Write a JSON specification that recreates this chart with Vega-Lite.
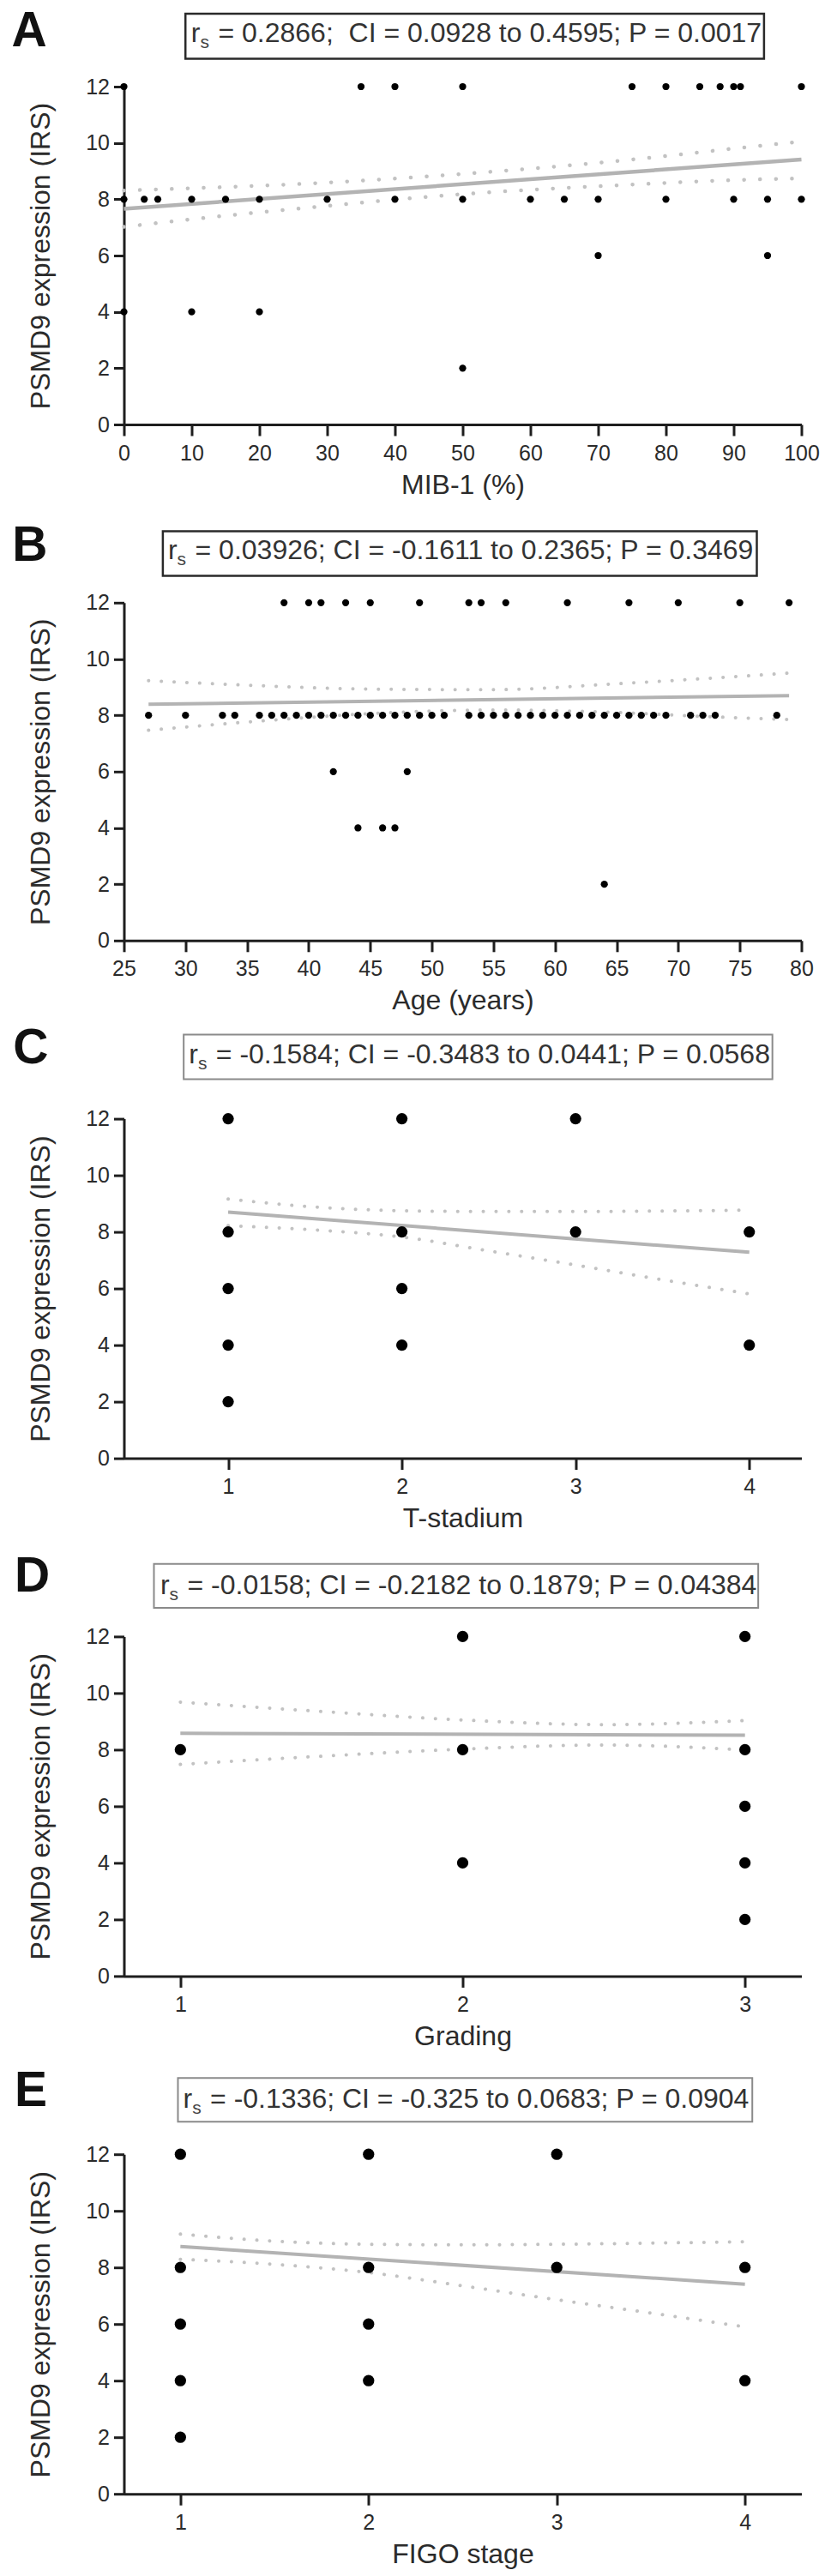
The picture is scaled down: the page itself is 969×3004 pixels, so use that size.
{
  "$schema": "https://vega.github.io/schema/vega-lite/v6.json",
  "description": "PSMD9 expression (IRS) against MIB-1, age, T-stadium, grading and FIGO stage, with Spearman fit lines and 95% bands.",
  "padding": {"left": 13.5, "top": 8, "right": 5, "bottom": 5},
  "bounds": "flush",
  "spacing": 207.8,
  "config": {
    "font": "Liberation Sans",
    "view": {"stroke": null},
    "axis": {
      "grid": false,
      "domainColor": "#1e1e1e",
      "domainWidth": 3,
      "tickColor": "#1e1e1e",
      "tickWidth": 3,
      "labelColor": "#2b2b2b",
      "labelFont": "Liberation Sans",
      "labelFontSize": 25,
      "labelFlush": false,
      "labelOverlap": false,
      "titleColor": "#2b2b2b",
      "titleFont": "Liberation Sans",
      "titleFontSize": 32,
      "titleFontWeight": "normal"
    },
    "axisX": {"tickSize": 13, "labelPadding": 8, "titlePadding": 9},
    "axisY": {"tickSize": 12, "labelPadding": 5, "titlePadding": 35}
  },
  "datasets": {
    "a_pts": [
      {"x": 0, "y": 12}, {"x": 35, "y": 12}, {"x": 40, "y": 12}, {"x": 50, "y": 12}, {"x": 75, "y": 12},
      {"x": 80, "y": 12}, {"x": 85, "y": 12}, {"x": 88, "y": 12}, {"x": 90, "y": 12}, {"x": 91, "y": 12},
      {"x": 100, "y": 12},
      {"x": 0, "y": 8}, {"x": 3, "y": 8}, {"x": 5, "y": 8}, {"x": 10, "y": 8}, {"x": 15, "y": 8},
      {"x": 20, "y": 8}, {"x": 30, "y": 8}, {"x": 40, "y": 8}, {"x": 50, "y": 8}, {"x": 60, "y": 8},
      {"x": 65, "y": 8}, {"x": 70, "y": 8}, {"x": 80, "y": 8}, {"x": 90, "y": 8}, {"x": 95, "y": 8},
      {"x": 100, "y": 8},
      {"x": 70, "y": 6}, {"x": 95, "y": 6},
      {"x": 0, "y": 4}, {"x": 10, "y": 4}, {"x": 20, "y": 4},
      {"x": 50, "y": 2}
    ],
    "a_fit": [{"x": 0, "y": 7.66}, {"x": 100, "y": 9.41}],
    "a_ci": [
      {"x": 0, "y": 8.31, "bound": "upper"}, {"x": 10, "y": 8.39, "bound": "upper"},
      {"x": 25, "y": 8.53, "bound": "upper"}, {"x": 50, "y": 8.9, "bound": "upper"},
      {"x": 75, "y": 9.41, "bound": "upper"}, {"x": 90, "y": 9.8, "bound": "upper"},
      {"x": 100, "y": 10.05, "bound": "upper"},
      {"x": 0, "y": 7.02, "bound": "lower"}, {"x": 10, "y": 7.29, "bound": "lower"},
      {"x": 25, "y": 7.65, "bound": "lower"}, {"x": 50, "y": 8.18, "bound": "lower"},
      {"x": 75, "y": 8.52, "bound": "lower"}, {"x": 90, "y": 8.68, "bound": "lower"},
      {"x": 100, "y": 8.74, "bound": "lower"}
    ],
    "b_pts": [
      {"x": 38, "y": 12}, {"x": 40, "y": 12}, {"x": 41, "y": 12}, {"x": 43, "y": 12}, {"x": 45, "y": 12},
      {"x": 49, "y": 12}, {"x": 53, "y": 12}, {"x": 54, "y": 12}, {"x": 56, "y": 12}, {"x": 61, "y": 12},
      {"x": 66, "y": 12}, {"x": 70, "y": 12}, {"x": 75, "y": 12}, {"x": 79, "y": 12},
      {"x": 27, "y": 8}, {"x": 30, "y": 8}, {"x": 33, "y": 8}, {"x": 34, "y": 8}, {"x": 36, "y": 8},
      {"x": 37, "y": 8}, {"x": 38, "y": 8}, {"x": 39, "y": 8}, {"x": 40, "y": 8}, {"x": 41, "y": 8},
      {"x": 42, "y": 8}, {"x": 43, "y": 8}, {"x": 44, "y": 8}, {"x": 45, "y": 8}, {"x": 46, "y": 8},
      {"x": 47, "y": 8}, {"x": 48, "y": 8}, {"x": 49, "y": 8}, {"x": 50, "y": 8}, {"x": 51, "y": 8},
      {"x": 53, "y": 8}, {"x": 54, "y": 8}, {"x": 55, "y": 8}, {"x": 56, "y": 8}, {"x": 57, "y": 8},
      {"x": 58, "y": 8}, {"x": 59, "y": 8}, {"x": 60, "y": 8}, {"x": 61, "y": 8}, {"x": 62, "y": 8},
      {"x": 63, "y": 8}, {"x": 64, "y": 8}, {"x": 65, "y": 8}, {"x": 66, "y": 8}, {"x": 67, "y": 8},
      {"x": 68, "y": 8}, {"x": 69, "y": 8}, {"x": 71, "y": 8}, {"x": 72, "y": 8}, {"x": 73, "y": 8},
      {"x": 78, "y": 8},
      {"x": 42, "y": 6}, {"x": 48, "y": 6},
      {"x": 44, "y": 4}, {"x": 46, "y": 4}, {"x": 47, "y": 4},
      {"x": 64, "y": 2}
    ],
    "b_fit": [{"x": 27, "y": 8.39}, {"x": 79, "y": 8.7}],
    "b_ci": [
      {"x": 27, "y": 9.23, "bound": "upper"}, {"x": 35, "y": 9.07, "bound": "upper"},
      {"x": 45, "y": 8.93, "bound": "upper"}, {"x": 55, "y": 8.91, "bound": "upper"},
      {"x": 65, "y": 9.12, "bound": "upper"}, {"x": 72, "y": 9.3, "bound": "upper"},
      {"x": 79, "y": 9.5, "bound": "upper"},
      {"x": 27, "y": 7.47, "bound": "lower"}, {"x": 35, "y": 7.76, "bound": "lower"},
      {"x": 45, "y": 8.06, "bound": "lower"}, {"x": 55, "y": 8.19, "bound": "lower"},
      {"x": 65, "y": 8.1, "bound": "lower"}, {"x": 72, "y": 7.96, "bound": "lower"},
      {"x": 79, "y": 7.85, "bound": "lower"}
    ],
    "c_pts": [
      {"x": 1, "y": 12}, {"x": 1, "y": 8}, {"x": 1, "y": 6}, {"x": 1, "y": 4}, {"x": 1, "y": 2},
      {"x": 2, "y": 12}, {"x": 2, "y": 8}, {"x": 2, "y": 6}, {"x": 2, "y": 4},
      {"x": 3, "y": 12}, {"x": 3, "y": 8},
      {"x": 4, "y": 8}, {"x": 4, "y": 4}
    ],
    "c_fit": [{"x": 1, "y": 8.7}, {"x": 4, "y": 7.28}],
    "c_ci": [
      {"x": 1, "y": 9.16, "bound": "upper"}, {"x": 1.5, "y": 8.88, "bound": "upper"},
      {"x": 2, "y": 8.75, "bound": "upper"}, {"x": 2.5, "y": 8.72, "bound": "upper"},
      {"x": 3, "y": 8.72, "bound": "upper"}, {"x": 3.5, "y": 8.74, "bound": "upper"},
      {"x": 4, "y": 8.77, "bound": "upper"},
      {"x": 1, "y": 8.22, "bound": "lower"}, {"x": 1.5, "y": 8.07, "bound": "lower"},
      {"x": 2, "y": 7.82, "bound": "lower"}, {"x": 2.5, "y": 7.33, "bound": "lower"},
      {"x": 3, "y": 6.83, "bound": "lower"}, {"x": 3.5, "y": 6.31, "bound": "lower"},
      {"x": 4, "y": 5.81, "bound": "lower"}
    ],
    "d_pts": [
      {"x": 1, "y": 8},
      {"x": 2, "y": 12}, {"x": 2, "y": 8}, {"x": 2, "y": 4},
      {"x": 3, "y": 12}, {"x": 3, "y": 8}, {"x": 3, "y": 6}, {"x": 3, "y": 4}, {"x": 3, "y": 2}
    ],
    "d_fit": [{"x": 1, "y": 8.58}, {"x": 3, "y": 8.51}],
    "d_ci": [
      {"x": 1, "y": 9.68, "bound": "upper"}, {"x": 1.5, "y": 9.35, "bound": "upper"},
      {"x": 2, "y": 9.05, "bound": "upper"}, {"x": 2.5, "y": 8.885, "bound": "upper"},
      {"x": 3, "y": 9.03, "bound": "upper"},
      {"x": 1, "y": 7.48, "bound": "lower"}, {"x": 1.5, "y": 7.77, "bound": "lower"},
      {"x": 2, "y": 8.02, "bound": "lower"}, {"x": 2.5, "y": 8.165, "bound": "lower"},
      {"x": 3, "y": 7.99, "bound": "lower"}
    ],
    "e_pts": [
      {"x": 1, "y": 12}, {"x": 1, "y": 8}, {"x": 1, "y": 6}, {"x": 1, "y": 4}, {"x": 1, "y": 2},
      {"x": 2, "y": 12}, {"x": 2, "y": 8}, {"x": 2, "y": 6}, {"x": 2, "y": 4},
      {"x": 3, "y": 12}, {"x": 3, "y": 8},
      {"x": 4, "y": 8}, {"x": 4, "y": 4}
    ],
    "e_fit": [{"x": 1, "y": 8.74}, {"x": 4, "y": 7.41}],
    "e_ci": [
      {"x": 1, "y": 9.18, "bound": "upper"}, {"x": 1.5, "y": 8.93, "bound": "upper"},
      {"x": 2, "y": 8.82, "bound": "upper"}, {"x": 2.5, "y": 8.8, "bound": "upper"},
      {"x": 3, "y": 8.82, "bound": "upper"}, {"x": 3.5, "y": 8.86, "bound": "upper"},
      {"x": 4, "y": 8.91, "bound": "upper"},
      {"x": 1, "y": 8.29, "bound": "lower"}, {"x": 1.5, "y": 8.11, "bound": "lower"},
      {"x": 2, "y": 7.82, "bound": "lower"}, {"x": 2.5, "y": 7.35, "bound": "lower"},
      {"x": 3, "y": 6.86, "bound": "lower"}, {"x": 3.5, "y": 6.39, "bound": "lower"},
      {"x": 4, "y": 5.9, "bound": "lower"}
    ],
    "a_note": [{"panel": "A", "r": "r", "s": "s", "stat": "= 0.2866;\u00a0 CI = 0.0928 to 0.4595; P = 0.0017"}],
    "b_note": [{"panel": "B", "r": "r", "s": "s", "stat": "= 0.03926; CI = -0.1611 to 0.2365; P = 0.3469"}],
    "c_note": [{"panel": "C", "r": "r", "s": "s", "stat": "= -0.1584; CI = -0.3483 to 0.0441; P = 0.0568"}],
    "d_note": [{"panel": "D", "r": "r", "s": "s", "stat": "= -0.0158; CI = -0.2182 to 0.1879; P = 0.04384"}],
    "e_note": [{"panel": "E", "r": "r", "s": "s", "stat": "= -0.1336; CI = -0.325 to 0.0683; P = 0.0904"}]
  },
  "vconcat": [
    {
      "width": 790,
      "height": 394,
      "layer": [
        {
          "encoding": {
            "x": {"field": "x", "type": "quantitative", "scale": {"domain": [0, 100], "nice": false, "zero": false},
                  "axis": {"values": [0, 10, 20, 30, 40, 50, 60, 70, 80, 90, 100], "format": "d", "title": "MIB-1 (%)"}},
            "y": {"field": "y", "type": "quantitative", "scale": {"domain": [0, 12], "nice": false},
                  "axis": {"values": [0, 2, 4, 6, 8, 10, 12], "format": "d", "title": "PSMD9 expression (IRS)"}}
          },
          "layer": [
            {"data": {"name": "a_ci"},
             "mark": {"type": "line", "color": "#c2c2c2", "strokeWidth": 4.5, "strokeCap": "round", "strokeDash": [0.1, 18.5], "interpolate": "monotone"},
             "encoding": {"detail": {"field": "bound"}}},
            {"data": {"name": "a_fit"}, "mark": {"type": "line", "color": "#b3b3b3", "strokeWidth": 4.5}},
            {"data": {"name": "a_pts"}, "mark": {"type": "circle", "color": "#000000", "opacity": 1, "size": 68}}
          ]
        },
        {
          "data": {"name": "a_note"},
          "layer": [
            {"mark": {"type": "rect", "fill": null, "stroke": "#2a2a2a", "strokeWidth": 2.5},
             "encoding": {"x": {"datum": 9.08, "type": "quantitative"}, "x2": {"datum": 94.48}, "y": {"datum": 14.59, "type": "quantitative"}, "y2": {"datum": 12.99}}},
            {"mark": {"type": "text", "fontSize": 32, "align": "left", "baseline": "alphabetic", "color": "#333333"},
             "encoding": {"x": {"datum": 9.92, "type": "quantitative"}, "y": {"datum": 13.575, "type": "quantitative"}, "text": {"field": "r"}}},
            {"mark": {"type": "text", "fontSize": 21, "align": "left", "baseline": "alphabetic", "color": "#444444"},
             "encoding": {"x": {"datum": 11.28, "type": "quantitative"}, "y": {"datum": 13.362, "type": "quantitative"}, "text": {"field": "s"}}},
            {"mark": {"type": "text", "fontSize": 32, "align": "left", "baseline": "alphabetic", "color": "#333333"},
             "encoding": {"x": {"datum": 13.92, "type": "quantitative"}, "y": {"datum": 13.575, "type": "quantitative"}, "text": {"field": "stat"}}},
            {"mark": {"type": "text", "fontSize": 57, "fontWeight": "bold", "align": "left", "baseline": "alphabetic", "color": "#111111"},
             "encoding": {"x": {"datum": -16.58, "type": "quantitative"}, "y": {"datum": 13.42, "type": "quantitative"}, "text": {"field": "panel"}}}
          ]
        }
      ]
    },
    {
      "width": 790,
      "height": 394,
      "layer": [
        {
          "encoding": {
            "x": {"field": "x", "type": "quantitative", "scale": {"domain": [25, 80], "nice": false, "zero": false},
                  "axis": {"values": [25, 30, 35, 40, 45, 50, 55, 60, 65, 70, 75, 80], "format": "d", "title": "Age (years)"}},
            "y": {"field": "y", "type": "quantitative", "scale": {"domain": [0, 12], "nice": false},
                  "axis": {"values": [0, 2, 4, 6, 8, 10, 12], "format": "d", "title": "PSMD9 expression (IRS)"}}
          },
          "layer": [
            {"data": {"name": "b_ci"},
             "mark": {"type": "line", "color": "#c2c2c2", "strokeWidth": 4, "strokeCap": "round", "strokeDash": [0.1, 14.8], "interpolate": "monotone"},
             "encoding": {"detail": {"field": "bound"}}},
            {"data": {"name": "b_fit"}, "mark": {"type": "line", "color": "#b3b3b3", "strokeWidth": 4}},
            {"data": {"name": "b_pts"}, "mark": {"type": "circle", "color": "#000000", "opacity": 1, "size": 68}}
          ]
        },
        {
          "data": {"name": "b_note"},
          "layer": [
            {"mark": {"type": "rect", "fill": null, "stroke": "#2a2a2a", "strokeWidth": 2.5},
             "encoding": {"x": {"datum": 28.16, "type": "quantitative"}, "x2": {"datum": 76.38}, "y": {"datum": 14.54, "type": "quantitative"}, "y2": {"datum": 12.95}}},
            {"mark": {"type": "text", "fontSize": 32, "align": "left", "baseline": "alphabetic", "color": "#333333"},
             "encoding": {"x": {"datum": 28.578, "type": "quantitative"}, "y": {"datum": 13.54, "type": "quantitative"}, "text": {"field": "r"}}},
            {"mark": {"type": "text", "fontSize": 21, "align": "left", "baseline": "alphabetic", "color": "#444444"},
             "encoding": {"x": {"datum": 29.323, "type": "quantitative"}, "y": {"datum": 13.327, "type": "quantitative"}, "text": {"field": "s"}}},
            {"mark": {"type": "text", "fontSize": 32, "align": "left", "baseline": "alphabetic", "color": "#333333"},
             "encoding": {"x": {"datum": 30.78, "type": "quantitative"}, "y": {"datum": 13.54, "type": "quantitative"}, "text": {"field": "stat"}}},
            {"mark": {"type": "text", "fontSize": 57, "fontWeight": "bold", "align": "left", "baseline": "alphabetic", "color": "#111111"},
             "encoding": {"x": {"datum": 15.93, "type": "quantitative"}, "y": {"datum": 13.49, "type": "quantitative"}, "text": {"field": "panel"}}}
          ]
        }
      ]
    },
    {
      "width": 790,
      "height": 396,
      "layer": [
        {
          "encoding": {
            "x": {"field": "x", "type": "quantitative", "scale": {"domain": [0.4, 4.3], "nice": false, "zero": false},
                  "axis": {"values": [1, 2, 3, 4], "format": "d", "title": "T-stadium"}},
            "y": {"field": "y", "type": "quantitative", "scale": {"domain": [0, 12], "nice": false},
                  "axis": {"values": [0, 2, 4, 6, 8, 10, 12], "format": "d", "title": "PSMD9 expression (IRS)"}}
          },
          "layer": [
            {"data": {"name": "c_ci"},
             "mark": {"type": "line", "color": "#c2c2c2", "strokeWidth": 4, "strokeCap": "round", "strokeDash": [0.1, 14.8], "interpolate": "monotone"},
             "encoding": {"detail": {"field": "bound"}}},
            {"data": {"name": "c_fit"}, "mark": {"type": "line", "color": "#b3b3b3", "strokeWidth": 4}},
            {"data": {"name": "c_pts"}, "mark": {"type": "circle", "color": "#000000", "opacity": 1, "size": 175}}
          ]
        },
        {
          "data": {"name": "c_note"},
          "layer": [
            {"mark": {"type": "rect", "fill": null, "stroke": "#8a8a8a", "strokeWidth": 2},
             "encoding": {"x": {"datum": 0.744, "type": "quantitative"}, "x2": {"datum": 4.133}, "y": {"datum": 14.97, "type": "quantitative"}, "y2": {"datum": 13.4}}},
            {"mark": {"type": "text", "fontSize": 32, "align": "left", "baseline": "alphabetic", "color": "#333333"},
             "encoding": {"x": {"datum": 0.7737, "type": "quantitative"}, "y": {"datum": 13.96, "type": "quantitative"}, "text": {"field": "r"}}},
            {"mark": {"type": "text", "fontSize": 21, "align": "left", "baseline": "alphabetic", "color": "#444444"},
             "encoding": {"x": {"datum": 0.8265, "type": "quantitative"}, "y": {"datum": 13.748, "type": "quantitative"}, "text": {"field": "s"}}},
            {"mark": {"type": "text", "fontSize": 32, "align": "left", "baseline": "alphabetic", "color": "#333333"},
             "encoding": {"x": {"datum": 0.9297, "type": "quantitative"}, "y": {"datum": 13.96, "type": "quantitative"}, "text": {"field": "stat"}}},
            {"mark": {"type": "text", "fontSize": 57, "fontWeight": "bold", "align": "left", "baseline": "alphabetic", "color": "#111111"},
             "encoding": {"x": {"datum": -0.238, "type": "quantitative"}, "y": {"datum": 13.96, "type": "quantitative"}, "text": {"field": "panel"}}}
          ]
        }
      ]
    },
    {
      "width": 790,
      "height": 396,
      "layer": [
        {
          "encoding": {
            "x": {"field": "x", "type": "quantitative", "scale": {"domain": [0.8, 3.2], "nice": false, "zero": false},
                  "axis": {"values": [1, 2, 3], "format": "d", "title": "Grading"}},
            "y": {"field": "y", "type": "quantitative", "scale": {"domain": [0, 12], "nice": false},
                  "axis": {"values": [0, 2, 4, 6, 8, 10, 12], "format": "d", "title": "PSMD9 expression (IRS)"}}
          },
          "layer": [
            {"data": {"name": "d_ci"},
             "mark": {"type": "line", "color": "#c2c2c2", "strokeWidth": 4, "strokeCap": "round", "strokeDash": [0.1, 14.8], "interpolate": "monotone"},
             "encoding": {"detail": {"field": "bound"}}},
            {"data": {"name": "d_fit"}, "mark": {"type": "line", "color": "#b3b3b3", "strokeWidth": 4}},
            {"data": {"name": "d_pts"}, "mark": {"type": "circle", "color": "#000000", "opacity": 1, "size": 175}}
          ]
        },
        {
          "data": {"name": "d_note"},
          "layer": [
            {"mark": {"type": "rect", "fill": null, "stroke": "#8a8a8a", "strokeWidth": 2},
             "encoding": {"x": {"datum": 0.9063, "type": "quantitative"}, "x2": {"datum": 3.047}, "y": {"datum": 14.564, "type": "quantitative"}, "y2": {"datum": 13.009}}},
            {"mark": {"type": "text", "fontSize": 32, "align": "left", "baseline": "alphabetic", "color": "#333333"},
             "encoding": {"x": {"datum": 0.9288, "type": "quantitative"}, "y": {"datum": 13.485, "type": "quantitative"}, "text": {"field": "r"}}},
            {"mark": {"type": "text", "fontSize": 21, "align": "left", "baseline": "alphabetic", "color": "#444444"},
             "encoding": {"x": {"datum": 0.9613, "type": "quantitative"}, "y": {"datum": 13.273, "type": "quantitative"}, "text": {"field": "s"}}},
            {"mark": {"type": "text", "fontSize": 32, "align": "left", "baseline": "alphabetic", "color": "#333333"},
             "encoding": {"x": {"datum": 1.0248, "type": "quantitative"}, "y": {"datum": 13.485, "type": "quantitative"}, "text": {"field": "stat"}}},
            {"mark": {"type": "text", "fontSize": 57, "fontWeight": "bold", "align": "left", "baseline": "alphabetic", "color": "#111111"},
             "encoding": {"x": {"datum": 0.4124, "type": "quantitative"}, "y": {"datum": 13.585, "type": "quantitative"}, "text": {"field": "panel"}}}
          ]
        }
      ]
    },
    {
      "width": 790,
      "height": 396,
      "layer": [
        {
          "encoding": {
            "x": {"field": "x", "type": "quantitative", "scale": {"domain": [0.7, 4.3], "nice": false, "zero": false},
                  "axis": {"values": [1, 2, 3, 4], "format": "d", "title": "FIGO stage"}},
            "y": {"field": "y", "type": "quantitative", "scale": {"domain": [0, 12], "nice": false},
                  "axis": {"values": [0, 2, 4, 6, 8, 10, 12], "format": "d", "title": "PSMD9 expression (IRS)"}}
          },
          "layer": [
            {"data": {"name": "e_ci"},
             "mark": {"type": "line", "color": "#c2c2c2", "strokeWidth": 4, "strokeCap": "round", "strokeDash": [0.1, 14.8], "interpolate": "monotone"},
             "encoding": {"detail": {"field": "bound"}}},
            {"data": {"name": "e_fit"}, "mark": {"type": "line", "color": "#b3b3b3", "strokeWidth": 4}},
            {"data": {"name": "e_pts"}, "mark": {"type": "circle", "color": "#000000", "opacity": 1, "size": 175}}
          ]
        },
        {
          "data": {"name": "e_note"},
          "layer": [
            {"mark": {"type": "rect", "fill": null, "stroke": "#8a8a8a", "strokeWidth": 2},
             "encoding": {"x": {"datum": 0.987, "type": "quantitative"}, "x2": {"datum": 4.039}, "y": {"datum": 14.697, "type": "quantitative"}, "y2": {"datum": 13.152}}},
            {"mark": {"type": "text", "fontSize": 32, "align": "left", "baseline": "alphabetic", "color": "#333333"},
             "encoding": {"x": {"datum": 1.0144, "type": "quantitative"}, "y": {"datum": 13.636, "type": "quantitative"}, "text": {"field": "r"}}},
            {"mark": {"type": "text", "fontSize": 21, "align": "left", "baseline": "alphabetic", "color": "#444444"},
             "encoding": {"x": {"datum": 1.0632, "type": "quantitative"}, "y": {"datum": 13.424, "type": "quantitative"}, "text": {"field": "s"}}},
            {"mark": {"type": "text", "fontSize": 32, "align": "left", "baseline": "alphabetic", "color": "#333333"},
             "encoding": {"x": {"datum": 1.1584, "type": "quantitative"}, "y": {"datum": 13.636, "type": "quantitative"}, "text": {"field": "stat"}}},
            {"mark": {"type": "text", "fontSize": 57, "fontWeight": "bold", "align": "left", "baseline": "alphabetic", "color": "#111111"},
             "encoding": {"x": {"datum": 0.1185, "type": "quantitative"}, "y": {"datum": 13.688, "type": "quantitative"}, "text": {"field": "panel"}}}
          ]
        }
      ]
    }
  ]
}
